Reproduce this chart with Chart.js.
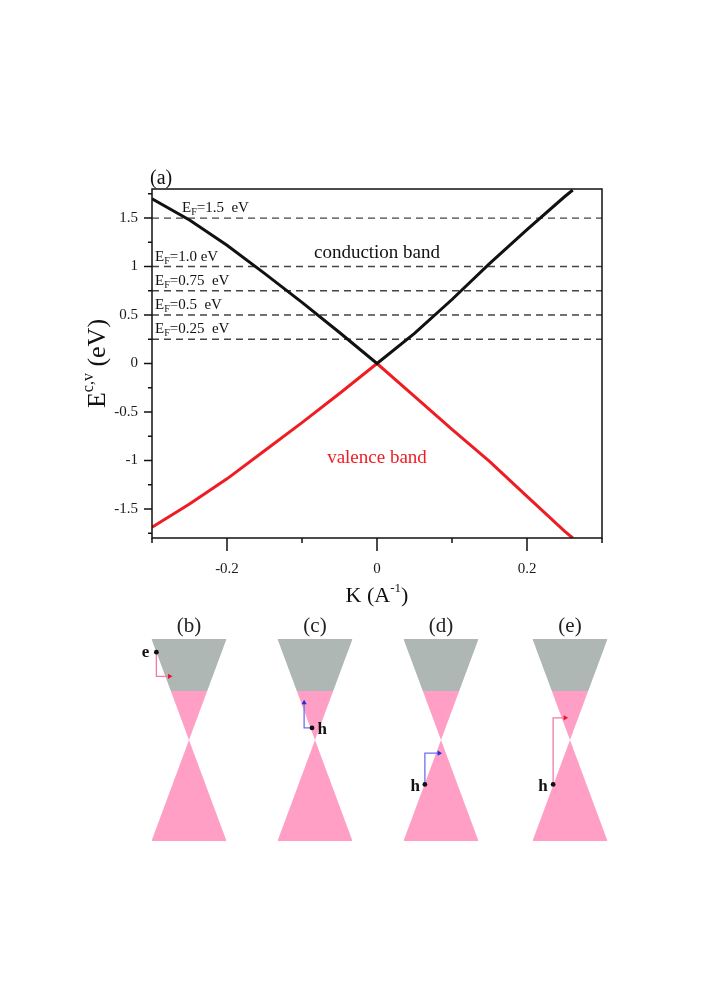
<!DOCTYPE html>
<html>
<head>
<meta charset="utf-8">
<script src="https://cdn.jsdelivr.net/npm/chart.js@4.4.0/dist/chart.umd.min.js"></script>
<style>
  html, body { margin: 0; padding: 0; background: #fff; }
  #page { position: relative; width: 706px; height: 999px; overflow: hidden; }
  #page canvas { position: absolute; }
</style>
</head>
<body>
<div id="page">
  <canvas id="band" width="706" height="620" style="left:0;top:0"></canvas>
</div>
<script>
// ---- panel (a): dispersion near the Dirac point ----
const kPoints     = [-0.3, -0.25, -0.2, -0.15, -0.1, -0.05, 0, 0.05, 0.1, 0.15, 0.2, 0.25, 0.261];
const conductionE = [1.70, 1.48, 1.22, 0.93, 0.63, 0.32, 0, 0.31, 0.66, 1.03, 1.38, 1.72, 1.79];
const valenceE    = [-1.69, -1.45, -1.19, -0.90, -0.61, -0.31, 0, -0.34, -0.68, -1.01, -1.37, -1.73, -1.80];
const fermiLevels = [0.25, 0.5, 0.75, 1.0, 1.5];
const fermiLabels = ['=0.25  eV', '=0.5  eV', '=0.75  eV', '=1.0 eV', '=1.5  eV'];
const xMajorTicks = [-0.2, 0, 0.2];
const xMinorTicks = [-0.3, -0.1, 0.1, 0.3];
const yMajorTicks = [-1.5, -1, -0.5, 0, 0.5, 1, 1.5];
const yMinorTicks = [-1.75, -1.25, -0.75, -0.25, 0.25, 0.75, 1.25, 1.75];

// ---- panels (b)-(e): schematic cones, apex at (0,0), edges |k| = |E| ----
const panelNames = ['(b)', '(c)', '(d)', '(e)'];
const coneEF = 0.485;            // filled (pink) up to here, gray above
const carrierLabels = ['e', 'h', 'h', 'h'];
const pathB = [[-0.87, 0.87], [-0.87, 0.63], [-0.52, 0.63]];
const pathC = [[-0.08, 0.12], [-0.29, 0.12], [-0.29, 0.37]];
const pathD = [[-0.43, -0.44], [-0.43, -0.13], [-0.05, -0.13]];
const pathE = [[-0.45, -0.44], [-0.45, 0.22], [-0.13, 0.22]];

const SERIF = '"Liberation Serif", "Times New Roman", serif';
Chart.defaults.font.family = SERIF;

const pts = (xs, ys) => xs.map((x, i) => ({ x: x, y: ys[i] }));

function richText(ctx, parts, x, y, align) {
  let w = 0;
  const widths = parts.map(p => {
    ctx.font = p[1] + 'px ' + SERIF;
    const m = ctx.measureText(p[0]).width;
    w += m;
    return m;
  });
  let cx = align === 'center' ? x - w / 2 : x;
  parts.forEach((p, i) => {
    ctx.font = p[1] + 'px ' + SERIF;
    ctx.fillText(p[0], cx, y + (p[2] || 0));
    cx += widths[i];
  });
}

const bandDecor = {
  id: 'bandDecor',
  afterDraw(chart) {
    const { ctx, chartArea: a, scales: { x, y } } = chart;
    ctx.save();
    ctx.strokeStyle = '#111';
    ctx.lineWidth = 1.5;
    ctx.strokeRect(a.left, a.top, a.right - a.left, a.bottom - a.top);
    ctx.beginPath();
    xMajorTicks.forEach(v => { const p = x.getPixelForValue(v); ctx.moveTo(p, a.bottom); ctx.lineTo(p, a.bottom + 13); });
    xMinorTicks.forEach(v => { const p = x.getPixelForValue(v); ctx.moveTo(p, a.bottom); ctx.lineTo(p, a.bottom + 5); });
    yMajorTicks.forEach(v => { const p = y.getPixelForValue(v); ctx.moveTo(a.left, p); ctx.lineTo(a.left - 8, p); });
    yMinorTicks.forEach(v => { const p = y.getPixelForValue(v); ctx.moveTo(a.left, p); ctx.lineTo(a.left - 4, p); });
    ctx.stroke();

    ctx.fillStyle = '#111';
    ctx.textBaseline = 'alphabetic';
    // Fermi level labels
    fermiLevels.forEach((lv, i) => {
      const kx = lv === 1.5 ? -0.26 : -0.296;
      richText(ctx, [['E', 15], ['F', 10, 3], [fermiLabels[i], 15]],
        x.getPixelForValue(kx), y.getPixelForValue(lv + 0.06), 'left');
    });
    richText(ctx, [['conduction band', 19]], x.getPixelForValue(0), y.getPixelForValue(1.09), 'center');
    ctx.fillStyle = '#ee1d23';
    richText(ctx, [['valence band', 19]], x.getPixelForValue(0), y.getPixelForValue(-1.03), 'center');

    ctx.fillStyle = '#111';
    richText(ctx, [['(a)', 20]], a.left - 2, a.top - 5, 'left');
    // axis titles
    richText(ctx, [['K (A', 22], ['-1', 13, -10], [')', 22]], (a.left + a.right) / 2, a.bottom + 64, 'center');
    ctx.translate(105, (a.top + a.bottom) / 2);
    ctx.rotate(-Math.PI / 2);
    richText(ctx, [['E', 26], ['c,v', 16, -12], [' (eV)', 26]], 0, 0, 'center');
    ctx.restore();
  }
};

const fermiSets = fermiLevels.map(lv => ({
  data: pts([-0.3, 0.3], [lv, lv]),
  borderColor: '#444',
  borderWidth: 1.4,
  borderDash: [7, 5],
  showLine: true,
  pointRadius: 0
}));

// first datasets are painted last (on top), so the band curves come first
new Chart(document.getElementById('band'), {
  type: 'scatter',
  data: {
    datasets: [
      { data: pts(kPoints, conductionE), borderColor: '#111', borderWidth: 3, showLine: true, pointRadius: 0 },
      { data: pts(kPoints, valenceE), borderColor: '#ee1d23', borderWidth: 3, showLine: true, pointRadius: 0 }
    ].concat(fermiSets)
  },
  options: {
    responsive: false,
    animation: false,
    layout: { padding: { top: 189, right: 104, left: 0, bottom: 0 } },
    plugins: { legend: { display: false }, tooltip: { enabled: false } },
    scales: {
      x: {
        type: 'linear', min: -0.3, max: 0.3,
        afterBuildTicks: s => { s.ticks = xMajorTicks.map(v => ({ value: v })); },
        afterFit: s => { s.height = 82; },
        grid: { display: false, drawTicks: false },
        border: { display: false },
        ticks: { autoSkip: false, maxRotation: 0, padding: 22, color: '#1a1a1a', font: { size: 15 }, callback: v => String(v) }
      },
      y: {
        type: 'linear', min: -1.8, max: 1.8,
        afterBuildTicks: s => { s.ticks = yMajorTicks.map(v => ({ value: v })); },
        afterFit: s => { s.width = 152; },
        grid: { display: false, drawTicks: false },
        border: { display: false },
        ticks: { autoSkip: false, padding: 14, color: '#1a1a1a', font: { size: 15 }, callback: v => String(v) }
      }
    }
  },
  plugins: [bandDecor]
});

// ---- cone panels ----
const panelCenters = [188.5, 315, 441, 570];
const carrierPaths = [pathB, pathC, pathD, pathE];
const pathColors = ['#f27ba3', '#6f6ff5', '#6f6ff5', '#f27ba3'];
const headColors = ['#e8182c', '#2a2ae0', '#2a2ae0', '#e8182c'];
const headTurn = [90, 0, 90, 90];
const labelSpots = [[-1.16, 0.87], [0.19, 0.10], [-0.69, -0.46], [-0.72, -0.46]];

const coneDecor = {
  id: 'coneDecor',
  afterDraw(chart) {
    const { ctx, scales: { x, y } } = chart;
    const i = chart.options.panelIndex;
    ctx.save();
    ctx.fillStyle = '#222';
    ctx.textAlign = 'center';
    ctx.textBaseline = 'middle';
    ctx.font = '21px ' + SERIF;
    ctx.fillText(panelNames[i], x.getPixelForValue(0), y.getPixelForValue(1.12));
    ctx.font = 'bold 17px ' + SERIF;
    ctx.fillStyle = '#111';
    ctx.fillText(carrierLabels[i], x.getPixelForValue(labelSpots[i][0]), y.getPixelForValue(labelSpots[i][1]));
    ctx.restore();
  }
};

panelCenters.forEach((cx, i) => {
  const cv = document.createElement('canvas');
  cv.width = 110; cv.height = 240;
  cv.style.left = (cx - 55) + 'px';
  cv.style.top = '610px';
  document.getElementById('page').appendChild(cv);
  const path = carrierPaths[i];
  new Chart(cv, {
    type: 'scatter',
    data: {
      datasets: [
        // carrier move, on top of the cone fills
        { data: pts(path.map(p => p[0]), path.map(p => p[1])), showLine: true, borderWidth: 1.3,
          borderColor: pathColors[i], pointRadius: [2.4, 0, 3], pointBorderWidth: 0,
          pointStyle: ['circle', 'circle', 'triangle'], pointRotation: [0, 0, headTurn[i]],
          pointBackgroundColor: ['#111', 'rgba(0,0,0,0)', headColors[i]] },
        { data: pts([-1, -coneEF, coneEF, 1], [1, coneEF, coneEF, 1]), showLine: true, borderWidth: 0, pointRadius: 0,
          backgroundColor: '#aeb7b3', fill: { value: 1 } },
        { data: pts([-coneEF, 0, coneEF], [coneEF, 0, coneEF]), showLine: true, borderWidth: 0, pointRadius: 0,
          backgroundColor: '#ff9fc5', fill: { value: coneEF } },
        { data: pts([-1, 0, 1], [-1, 0, -1]), showLine: true, borderWidth: 0, pointRadius: 0,
          backgroundColor: '#ff9fc5', fill: { value: -1 } }
      ]
    },
    options: {
      panelIndex: i,
      responsive: false,
      animation: false,
      layout: { padding: 0, autoPadding: false },
      plugins: { legend: { display: false }, tooltip: { enabled: false } },
      scales: {
        x: { type: 'linear', display: false, min: -55 / 37.5, max: 55 / 37.5 },
        y: { type: 'linear', display: false, min: -110 / 101, max: 130 / 101 }
      }
    },
    plugins: [coneDecor]
  });
});
</script>
</body>
</html>
